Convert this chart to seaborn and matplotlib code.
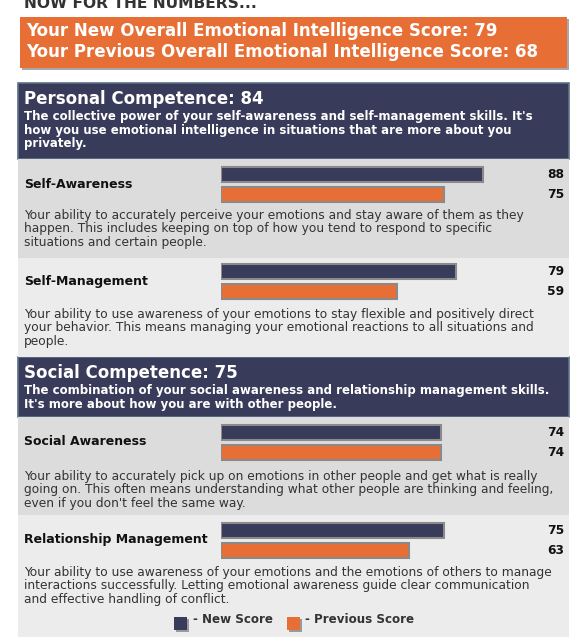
import matplotlib
matplotlib.use('Agg')
import matplotlib.pyplot as plt
from matplotlib.patches import Rectangle
import pandas as pd
import seaborn as sns

# ---- data ----
overall_new = 79
overall_prev = 68

groups = ['Personal Competence', 'Social Competence']
group_scores = [84, 75]
group_texts = [
    "The collective power of your self-awareness and self-management skills. It's\n"
    "how you use emotional intelligence in situations that are more about you\n"
    "privately.",
    "The combination of your social awareness and relationship management skills.\n"
    "It's more about how you are with other people.",
]

skills = ['Self-Awareness', 'Self-Management', 'Social Awareness', 'Relationship Management']
new_scores = [88, 79, 74, 75]
prev_scores = [75, 59, 74, 63]
skill_texts = [
    "Your ability to accurately perceive your emotions and stay aware of them as they\n"
    "happen. This includes keeping on top of how you tend to respond to specific\n"
    "situations and certain people.",
    "Your ability to use awareness of your emotions to stay flexible and positively direct\n"
    "your behavior. This means managing your emotional reactions to all situations and\n"
    "people.",
    "Your ability to accurately pick up on emotions in other people and get what is really\n"
    "going on. This often means understanding what other people are thinking and feeling,\n"
    "even if you don't feel the same way.",
    "Your ability to use awareness of your emotions and the emotions of others to manage\n"
    "interactions successfully. Letting emotional awareness guide clear communication\n"
    "and effective handling of conflict.",
]
series = ['New Score', 'Previous Score']

# ---- style ----
NAVY = '#383b59'
ORANGE = '#e76f35'
EDGE = '#8a8a8a'
W, H = 582, 643

sns.set_theme(style='white')
plt.rcParams['font.family'] = ['DejaVu Sans']

fig = plt.figure(figsize=(W / 100, H / 100), dpi=100)
bg = fig.add_axes([0, 0, 1, 1])
bg.set_xlim(0, W)
bg.set_ylim(H, 0)
bg.axis('off')


def px_axes(x0, y0, x1, y1):
    return fig.add_axes([x0 / W, 1 - y1 / H, (x1 - x0) / W, (y1 - y0) / H])


def box(x0, y0, x1, y1, **kw):
    bg.add_patch(Rectangle((x0, y0), x1 - x0, y1 - y0, **kw))


def lines(x, y0, step, text, **kw):
    for i, ln in enumerate(text.split('\n')):
        bg.text(x, y0 + i * step, ln, va='baseline', ha='left', **kw)


# header (cut at the top edge, as in the source screenshot)
bg.text(24, 7.5, 'NOW FOR THE NUMBERS...', fontsize=11.2, fontweight='bold', color='#333333', va='baseline')

# overall scores
box(22, 19, 569, 70, color='#a8a8a8', lw=0)
box(20, 17, 567, 68, color=ORANGE, lw=0)
bg.text(26, 36, f'Your New Overall Emotional Intelligence Score: {overall_new}',
        fontsize=12, fontweight='bold', color='white', va='baseline')
bg.text(26, 57, f'Your Previous Overall Emotional Intelligence Score: {overall_prev}',
        fontsize=12, fontweight='bold', color='white', va='baseline')

# competence headers
group_boxes = [(83, 159), (357, 417)]
for g, sc, txt, (y0, y1) in zip(groups, group_scores, group_texts, group_boxes):
    box(18, y0, 569, y1, fc=NAVY, ec='#5e7188', lw=1.2)
    bg.text(24, y0 + 21, f'{g}: {sc}', fontsize=12, fontweight='bold', color='white', va='baseline')
    lines(24, y0 + 37, 13.6, txt, fontsize=8.5, fontweight='bold', color='white')

# skill panels
panels = [(159, 258, '#dcdcdc'), (258, 357, '#ececec'), (417, 515, '#dcdcdc'), (515, 637, '#ececec')]
bar_tops = [164.5, 261.5, 422, 520]
desc_y = [219, 318, 480, 576]
x0_bar, x100_bar, x_val = 220.5, 519, 564

for i, skill in enumerate(skills):
    p0, p1, col = panels[i]
    box(18, p0, 569, p1, color=col, lw=0)
    top = bar_tops[i]
    bg.text(24, top + 23, skill, fontsize=9, fontweight='bold', color='#111111', va='baseline')
    lines(24, desc_y[i], 13.4, skill_texts[i], fontsize=8.8, color='#333333')

    df = pd.DataFrame({'series': series, 'score': [new_scores[i], prev_scores[i]]})
    ax = px_axes(x0_bar, top, x100_bar, top + 40)
    sns.barplot(data=df, x='score', y='series', hue='series', palette=[NAVY, ORANGE],
                saturation=1, orient='h', width=0.75, edgecolor=EDGE, linewidth=1.5,
                legend=False, ax=ax)
    ax.set_xlim(0, 100)
    ax.set_ylim(1.5, -0.5)
    ax.axis('off')
    xf = (x_val - x0_bar) / (x100_bar - x0_bar)
    for j, v in enumerate(df['score']):
        ax.text(xf, j, str(v), transform=ax.get_yaxis_transform(), ha='right', va='center',
                fontsize=8.8, fontweight='bold', color='#111111', clip_on=False)

# legend
for (lx, tx), col, name in zip([(174, 193), (287, 305)], [NAVY, ORANGE], series):
    box(lx + 1.5, 618.5, lx + 14.5, 631.5, color='#9a9a9a', lw=0)
    box(lx, 617, lx + 13, 630, color=col, lw=0)
    bg.text(tx, 623, f'- {name}', fontsize=8.6, fontweight='bold', color='#333333', va='baseline')

fig.savefig('out.png', dpi=100)
